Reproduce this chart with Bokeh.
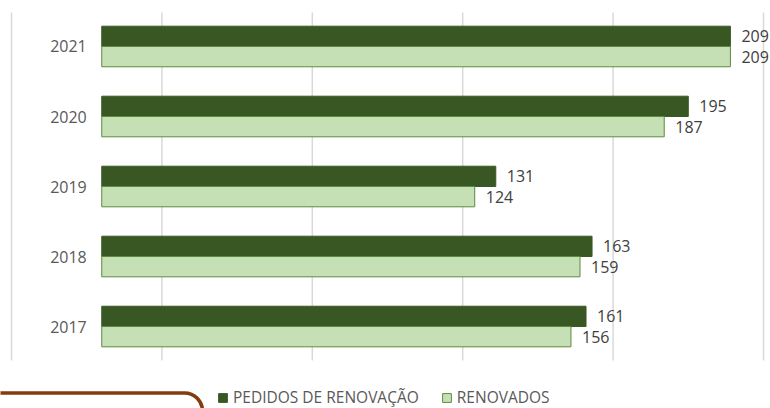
from bokeh.plotting import figure
from bokeh.models import Range1d, Legend, LegendItem, BoxAnnotation, ColumnDataSource
from bokeh.core.properties import value
from bokeh.embed import file_html
from bokeh.resources import INLINE

years = ["2017", "2018", "2019", "2020", "2021"]
pedidos = [161, 163, 131, 195, 209]
renovados = [156, 159, 124, 187, 209]
grid_ticks = [-30, 20, 70, 120, 170, 220]

DARK = "#385723"
LIGHT = "#C5E0B4"
TEXT = "#595959"
FONT = "Open Sans"

pos = list(range(len(years)))
bar_h = 0.29

p = figure(width=770, height=408, output_backend="svg", toolbar_location=None,
           x_range=Range1d(-33.66, 222.33), y_range=Range1d(-1.171, 4.657),
           x_axis_location=None, y_axis_location=None, min_border=0,
           outline_line_color=None, background_fill_color="white",
           border_fill_color="white")
p.grid.visible = False

# vertical gridlines
p.segment(x0=grid_ticks, x1=grid_ticks, y0=[-0.486] * len(grid_ticks),
          y1=[4.486] * len(grid_ticks), line_color="#D9D9D9", line_width=1.5)

src = ColumnDataSource(dict(
    y=pos, years=years, ped=pedidos, ren=renovados,
    yd=[v + bar_h / 2 for v in pos], yl=[v - bar_h / 2 for v in pos],
    ped_t=[str(v) for v in pedidos], ren_t=[str(v) for v in renovados],
))

r_dark = p.hbar(y="yd", left=0, right="ped", height=bar_h, source=src,
                fill_color=DARK, line_color="#3B5A25", line_width=1)
r_light = p.hbar(y="yl", left=0, right="ren", height=bar_h, source=src,
                 fill_color=LIGHT, line_color="#5E8A3F", line_width=1)

p.text(x=0, y="y", text="years", source=src, x_offset=-15,
       text_align="right", text_baseline="middle", text_font=value(FONT),
       text_font_size="16px", text_color=TEXT)
p.text(x="ped", y="yd", text="ped_t", source=src, x_offset=11,
       text_align="left", text_baseline="middle", text_font=value(FONT),
       text_font_size="16px", text_color="#404040")
p.text(x="ren", y="yl", text="ren_t", source=src, x_offset=11,
       text_align="left", text_baseline="middle", text_font=value(FONT),
       text_font_size="16px", text_color="#404040")

# decorative brown rounded frame at bottom-left
box = BoxAnnotation(left=-60, right=33.5, top=-0.95, bottom=-2.0,
                    fill_color=None, fill_alpha=0, line_color="#843C0C",
                    line_alpha=1, line_width=3.5, border_radius=18, level="overlay")
p.add_layout(box)

legend = Legend(items=[LegendItem(label="PEDIDOS DE RENOVAÇÃO", renderers=[r_dark]),
                       LegendItem(label="RENOVADOS", renderers=[r_light])],
                orientation="horizontal", location=(217, 0), padding=0, margin=0,
                spacing=22, glyph_width=11, glyph_height=11, label_height=11,
                label_standoff=5, label_text_font=FONT, label_text_font_size="15.5px",
                label_text_color=TEXT, border_line_color=None,
                background_fill_alpha=0)
p.add_layout(legend)

open("out.html", "w").write(file_html(p, INLINE))
